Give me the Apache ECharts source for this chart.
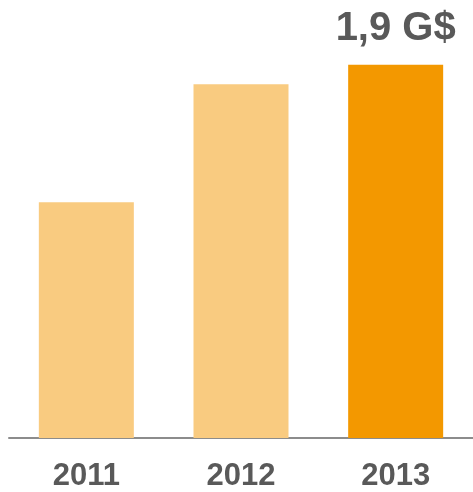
<!DOCTYPE html>
<html>
<head>
<meta charset="utf-8">
<script src="https://cdn.jsdelivr.net/npm/echarts@6/dist/echarts.min.js"></script>
<style>
  html, body { margin: 0; padding: 0; background: #fff; }
  #chart { width: 473px; height: 492px; }
</style>
</head>
<body>
<div id="chart"></div>
<script>
// données
var years = ['2011', '2012', '2013'];
var values = [1.2, 1.8, 1.9];
var valueLabels = ['', '', '1,9 G$'];

var lightColor = '#F9CB80';
var darkColor = '#F39800';

var chart = echarts.init(document.getElementById('chart'));

var barData = values.map(function (v, i) {
  var last = i === values.length - 1;
  return {
    value: v,
    itemStyle: { color: last ? darkColor : lightColor },
    label: {
      show: valueLabels[i] !== '',
      position: 'top',
      distance: 16,
      formatter: valueLabels[i],
      color: '#595959',
      fontSize: 40,
      fontWeight: 'bold',
      fontFamily: 'Liberation Sans, Arial, sans-serif'
    }
  };
});

var option = {
  animation: false,
  grid: {
    left: 9,
    top: 45,
    width: 465,
    height: 394
  },
  xAxis: {
    type: 'category',
    data: years,
    axisLine: { show: true, lineStyle: { color: '#8c8c8c', width: 2 } },
    axisTick: { show: false },
    axisLabel: {
      margin: 23,
      color: '#595959',
      fontSize: 31,
      fontWeight: 'bold',
      fontFamily: 'Liberation Sans, Arial, sans-serif'
    }
  },
  yAxis: {
    type: 'value',
    min: 0,
    max: 2,
    show: false,
    splitLine: { show: false }
  },
  series: [
    {
      type: 'bar',
      barWidth: 95,
      data: barData
    }
  ]
};

chart.setOption(option);
</script>
</body>
</html>
